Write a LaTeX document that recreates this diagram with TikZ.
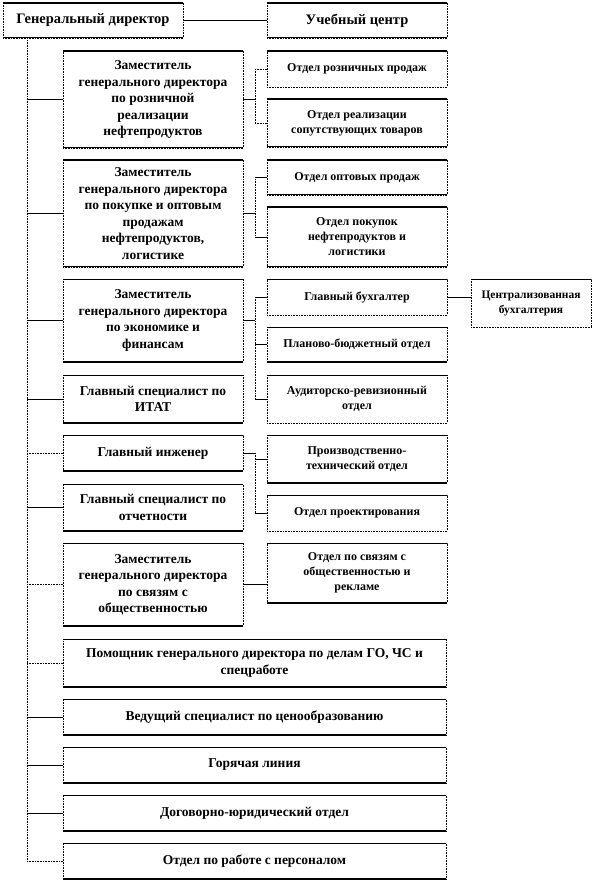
\documentclass[tikz,border=0pt]{standalone}
\usepackage{fontspec}
\setmainfont{Liberation Serif}
\usetikzlibrary{positioning}

\begin{document}
\begin{tikzpicture}
      [
      x=1pt,y=-1pt,
      dotline/.style={dash pattern=on 0.8pt off 0.8pt,line width=0.7pt},
      solidline/.style={solid,line width=0.8pt},
      unit/.style={draw,dotline,align=center,inner sep=1pt,
        path picture={\draw[solid,line width=1.6pt]
          (path picture bounding box.north west) -- (path picture bounding box.north east)
          (path picture bounding box.south west) -- (path picture bounding box.south east);}},
      unitd/.style={draw,dotline,align=center,inner sep=1pt,
        path picture={\draw[solid,line width=1.6pt]
          (path picture bounding box.north west) -- (path picture bounding box.north east);}},
      chief/.style={minimum width=180pt,font=\bfseries\fontsize{14.5}{17}\selectfont},
      deputy/.style={minimum width=180pt,font=\bfseries\fontsize{13.5}{16.5}\selectfont},
      wide/.style={minimum width=383pt,minimum height=36pt,font=\bfseries\fontsize{13.5}{16.5}\selectfont},
      dept/.style={minimum width=180pt,font=\bfseries\fontsize{12}{15}\selectfont}
      ]
      \useasboundingbox (0,0) rectangle (594,882);
      % top level
      \node (gendir) at (93,20.5) [unit,chief,minimum height=35pt] {Генеральный директор};
      \node (ucheb) at (357,20.5) [unit,chief,minimum height=35pt] {Учебный центр};
      % left column
      \node (zam1) at (153,99.5) [unit,deputy,minimum height=97pt] {Заместитель\\генерального директора\\по розничной\\реализации\\нефтепродуктов};
      \node (zam2) at (153,213.5) [unit,deputy,minimum height=107pt] {Заместитель\\генерального директора\\по покупке и оптовым\\продажам\\нефтепродуктов,\\логистике};
      \node (zam3) at (153,320.5) [unit,deputy,minimum height=83pt] {Заместитель\\генерального директора\\по экономике и\\финансам};
      \node (itat) at (153,399) [unit,deputy,minimum height=48pt] {Главный специалист по\\ИТАТ};
      \node (ingener) at (153,453) [unit,deputy,minimum height=36pt] {Главный инженер};
      \node (otchet) at (153,507.5) [unit,deputy,minimum height=47pt] {Главный специалист по\\отчетности};
      \node (zam4) at (153,584.5) [unit,deputy,minimum height=83pt] {Заместитель\\генерального директора\\по связям с\\общественностью};
      % wide boxes
      \node (pomosh) at (254.5,663) [unit,wide,minimum height=48pt] {Помощник генерального директора по делам ГО, ЧС и\\спецработе};
      \node (vedush) at (254.5,717) [unit,wide] {Ведущий специалист по ценообразованию};
      \node (hotline) at (254.5,765) [unit,wide] {Горячая линия};
      \node (dogovor) at (254.5,813) [unit,wide] {Договорно-юридический отдел};
      \node (kadry) at (254.5,861) [unit,wide] {Отдел по работе с персоналом};
      % departments
      \node (roznica) at (357,69) [unitd,dept,minimum height=36pt] {Отдел розничных продаж};
      \node (soput) at (357,123) [unit,dept,minimum height=48pt] {Отдел реализации\\сопутствующих товаров};
      \node (opt) at (357,177.5) [unit,dept,minimum height=35pt] {Отдел оптовых продаж};
      \node (pokup) at (357,237) [unit,dept,minimum height=60pt] {Отдел покупок\\нефтепродуктов и\\логистики};
      \node (buh) at (357,297) [unitd,dept,minimum height=36pt] {Главный бухгалтер};
      \node (centrbuh) at (531,303) [unitd,minimum width=120pt,minimum height=48pt,font=\bfseries\fontsize{11.5}{15}\selectfont] {Централизованная\\бухгалтерия};
      \node (plan) at (357,344.5) [unit,dept,minimum height=35pt] {Планово-бюджетный отдел};
      \node (audit) at (357,399) [unitd,dept,minimum height=48pt] {Аудиторско-ревизионный\\отдел};
      \node (proizv) at (357,459) [unit,dept,minimum height=48pt] {Производственно-\\технический отдел};
      \node (proekt) at (357,513) [unitd,dept,minimum height=36pt] {Отдел проектирования};
      \node (pr) at (357,573) [unit,dept,minimum height=60pt] {Отдел по связям с\\общественностью и\\рекламе};
      \coordinate (trunk) at (27,0);
      \coordinate (fork) at (255,0);
      % trunk
      \draw [dotline] (gendir.south -| trunk) -- (trunk |- kadry.west);
      \draw [solidline] (gendir) -- (ucheb);
      \draw [solidline] (trunk |- zam1.west) -- (zam1.west);
      \draw [solidline] (trunk |- zam2.west) -- (zam2.west);
      \draw [solidline] (trunk |- zam3.west) -- (zam3.west);
      \draw [solidline] (trunk |- itat.west) -- (itat.west);
      \draw [dotline] (trunk |- ingener.west) -- (ingener.west);
      \draw [solidline] (trunk |- otchet.west) -- (otchet.west);
      \draw [dotline] (trunk |- zam4.west) -- (zam4.west);
      \draw [dotline] (trunk |- pomosh.west) -- (pomosh.west);
      \draw [solidline] (trunk |- vedush.west) -- (vedush.west);
      \draw [solidline] (trunk |- hotline.west) -- (hotline.west);
      \draw [solidline] (trunk |- dogovor.west) -- (dogovor.west);
      \draw [dotline] (trunk |- kadry.west) -- (kadry.west);
      % retail
      \draw [solidline] (zam1.east) -- (zam1.east -| fork);
      \draw [dotline] (fork |- roznica.west) -- (fork |- soput.west);
      \draw [dotline] (fork |- roznica.west) -- (roznica.west);
      \draw [dotline] (fork |- soput.west) -- (soput.west);
      % wholesale
      \draw [solidline] (zam2.east) -- (zam2.east -| fork);
      \draw [dotline] (fork |- opt.west) -- (fork |- pokup.west);
      \draw [solidline] (fork |- opt.west) -- (opt.west);
      \draw [solidline] (fork |- pokup.west) -- (pokup.west);
      % finance
      \draw [solidline] (zam3.east) -- (zam3.east -| fork);
      \draw [dotline] (fork |- buh.west) -- (fork |- audit.west);
      \draw [solidline] (fork |- buh.west) -- (buh.west);
      \draw [solidline] (fork |- plan.west) -- (plan.west);
      \draw [solidline] (fork |- audit.west) -- (audit.west);
      \draw [solidline] (buh.east) -- (buh.east -| centrbuh.west);
      % engineering
      \draw [solidline] (ingener.east) -- (ingener.east -| fork);
      \draw [dotline] (fork |- ingener.east) -- (fork |- proekt.west);
      \draw [solidline] (fork |- proizv.west) -- (proizv.west);
      \draw [solidline] (fork |- proekt.west) -- (proekt.west);
      % public relations
      \draw [solidline] (zam4.east) -- (zam4.east -| pr.west);
\end{tikzpicture}
\end{document}
